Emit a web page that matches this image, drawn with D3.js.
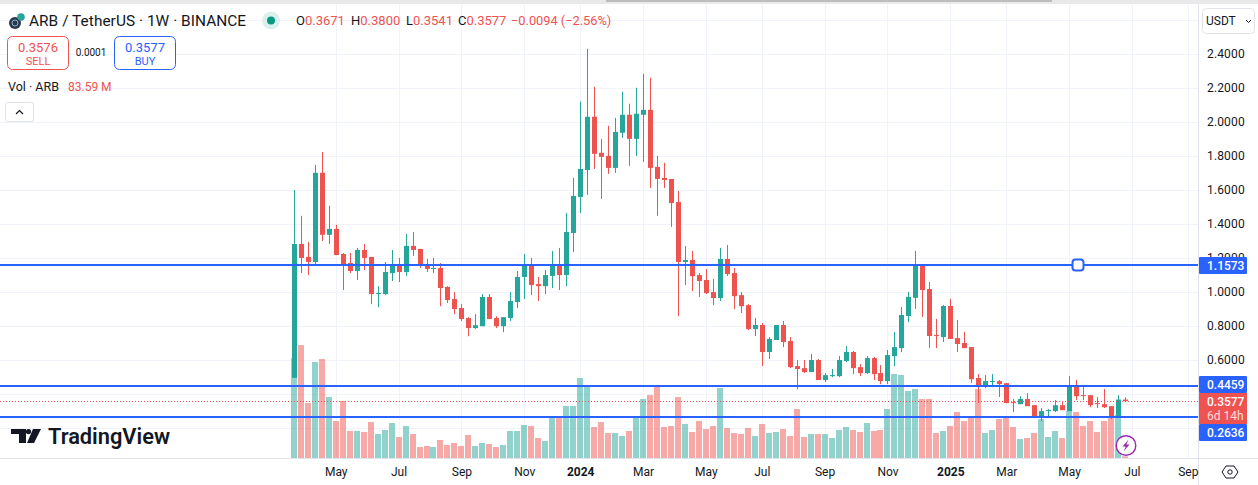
<!DOCTYPE html>
<html><head><meta charset="utf-8">
<script src="https://cdn.jsdelivr.net/npm/d3@7/dist/d3.min.js"></script>
<style>
html,body{margin:0;padding:0;background:#fff;overflow:hidden}
svg{display:block}
text{font-family:Roboto,"Noto Sans",sans-serif;fill:#131722}
</style></head><body><svg id="c" width="1258" height="485"></svg>
<script>
const opens=[.495,1.283,1.207,1.177,1.702,1.337,1.372,1.224,1.171,1.124,1.248,1.207,.988,.988,1.112,1.159,1.118,1.272,1.254,1.159,
1.136,1.142,1.030,.959,.906,.847,.788,.799,.971,.847,.799,.847,.941,1.089,1.159,1.047,1.035,1.095,1.159,1.100,
1.348,1.560,1.719,2.032,1.820,1.802,1.731,1.938,2.044,1.902,2.044,2.073,1.737,1.672,1.666,1.530,1.177,1.189,1.100,1.071,
1.000,.965,1.195,1.112,.982,.923,.782,.806,.647,.718,.806,.712,.564,.552,.529,.600,.482,.505,.505,.594,
.647,.558,.523,.611,.523,.476,.623,.670,.859,.966,1.159,1.018,.747,.735,.918,.729,.700,.676,.494,.446,
.470,.476,.464,.352,.340,.370,.334,.263,.299,.299,.334,.299,.452,.393,.393,.346,.340,.328,.263,.3671];
const closes=[1.283,1.201,1.177,1.702,1.337,1.372,1.218,1.165,1.124,1.248,1.201,.988,.994,1.118,1.159,1.118,1.272,1.248,1.159,1.136,
1.142,1.024,.953,.900,.841,.788,.805,.971,.841,.799,.852,.947,1.089,1.159,1.041,1.035,1.100,1.159,1.100,1.354,
1.566,1.725,2.032,1.814,1.796,1.731,1.943,2.044,1.902,2.050,2.073,1.731,1.666,1.660,1.524,1.177,1.189,1.094,1.065,.994,
.965,1.195,1.106,.976,.917,.782,.806,.647,.724,.806,.706,.558,.547,.529,.600,.482,.511,.511,.600,.647,
.552,.523,.611,.517,.476,.629,.676,.865,.972,1.159,1.012,.741,.741,.918,.724,.694,.670,.487,.446,.476,
.476,.458,.346,.346,.370,.328,.263,.299,.305,.334,.305,.452,.387,.387,.334,.340,.322,.263,.3671,.3577];
const highs=[1.601,1.449,1.295,1.749,1.825,1.508,1.396,1.230,1.230,1.260,1.283,1.207,1.035,1.177,1.248,1.201,1.342,1.354,1.254,1.195,
1.201,1.171,1.035,1.000,.929,.852,.870,.988,.988,.858,.852,1.000,1.124,1.224,1.201,1.089,1.130,1.242,1.260,1.466,
1.672,2.121,2.432,2.209,1.902,1.979,2.026,2.180,2.109,2.203,2.286,2.262,1.802,1.761,1.666,1.595,1.271,1.242,1.112,1.136,
1.077,1.260,1.277,1.142,1.000,.929,.848,.818,.735,.806,.830,.735,.600,.600,.635,.606,.523,.547,.623,.682,
.653,.576,.623,.617,.570,.659,.765,.912,1.001,1.242,1.159,1.059,.842,.924,.960,.836,.765,.676,.517,.511,
.517,.482,.464,.370,.387,.405,.334,.317,.311,.364,.352,.505,.482,.446,.393,.382,.429,.328,.393,.3800];
const lows=[.495,1.112,1.100,1.165,1.301,1.283,1.218,1.012,1.112,1.071,1.130,.929,.911,.982,1.065,1.059,1.095,1.213,1.142,1.118,
1.112,.917,.935,.870,.829,.740,.782,.799,.841,.788,.764,.829,.906,.959,.982,.947,.988,1.024,1.012,1.035,
1.236,1.465,1.572,1.725,1.548,1.696,1.702,1.908,1.743,1.802,1.766,1.613,1.449,1.613,1.384,.858,1.041,1.006,.971,.988,
.923,.947,1.094,.900,.876,.776,.741,.564,.606,.718,.676,.552,.428,.523,.529,.482,.470,.499,.499,.588,
.517,.505,.517,.482,.458,.458,.564,.647,.824,.901,.853,.670,.670,.706,.724,.647,.670,.464,.346,.434,
.440,.382,.346,.293,.340,.328,.258,.240,.263,.293,.305,.299,.364,.364,.322,.317,.317,.252,.263,.3541];
const volumes=[5000,5650,2750,4800,4950,3050,1850,2850,1350,1350,1300,1800,1200,1400,1750,1050,1600,1200,550,600,
550,900,650,750,600,1150,600,750,700,550,650,1350,1350,1650,1600,1000,850,2050,2100,2600,
2600,4000,3600,1550,1800,1250,1250,1100,1350,2050,2950,3150,3600,1550,1600,3050,1700,1300,1850,1450,
1600,3500,1500,1250,1200,1500,1100,1700,1250,1300,1450,1100,2450,1050,1200,1200,1200,1000,1400,1550,
1400,1300,1750,1350,1400,2450,4200,4150,3350,3450,2950,2950,1250,1350,1600,2300,1850,2100,3450,1250,
1400,1950,2000,1550,950,1000,1250,1950,1050,1350,1000,2350,2300,1600,1850,1300,1850,2000,2150,83.59];
const priceTicks=[2.4,2.2,2.0,1.8,1.6,1.4,1.2,1.0,0.8,0.6];
const gridPrices=[2.6,2.4,2.2,2.0,1.8,1.6,1.4,1.2,1.0,0.8,0.6,0.4,0.2];
const timeTickIdx=[6,15,24,33,41,50,59,67,76,85,94,102,111,120,128];
const timeTickLabels=["May","Jul","Sep","Nov","2024","Mar","May","Jul","Sep","Nov","2025","Mar","May","Jul","Sep"];
const boldLabels=["2024","2025"];
const levels=[1.1573,0.4459,0.2636];
const lastClose=0.3577;

const GREEN="#26a69a",RED="#ef5350",BLUE="#2962ff",GRID="#f0f3fa",LINE="#e0e3eb";
const svg=d3.select("#c");
const x=d3.scaleLinear().domain([0,128]).range([294.3,1188.3]);
const y=d3.scaleLinear().domain([2.4,0.6]).range([54.3,360]);
const v=d3.scaleLinear().domain([0,5000]).range([458,358]);
const px=i=>Math.floor(x(i));
const color=i=>closes[i]>=opens[i]?GREEN:RED;
const idx=d3.range(opens.length);

// top band
svg.append("rect").attr("width",1258).attr("height",4).attr("fill","#e9e9e9");
svg.append("rect").attr("x",606).attr("width",446).attr("height",2).attr("fill","#bdbdbd");

// grid
const g=svg.append("g");
g.selectAll(".h").data(gridPrices).join("line").attr("x1",0).attr("x2",1198)
 .attr("y1",d=>Math.round(y(d))+.5).attr("y2",d=>Math.round(y(d))+.5).attr("stroke",GRID);
g.selectAll(".v").data(timeTickIdx).join("line").attr("y1",4).attr("y2",458)
 .attr("x1",d=>Math.floor(x(d))+.5).attr("x2",d=>Math.floor(x(d))+.5).attr("stroke",GRID);

// volume
g.selectAll(".vol").data(idx).join("rect")
 .attr("x",i=>px(i)-3).attr("width",6)
 .attr("y",i=>v(volumes[i])).attr("height",i=>458-v(volumes[i]))
 .attr("fill",i=>color(i)).attr("fill-opacity",.5);

// candles
g.selectAll(".wick").data(idx).join("rect")
 .attr("x",i=>px(i)).attr("width",1)
 .attr("y",i=>y(highs[i])).attr("height",i=>y(lows[i])-y(highs[i]))
 .attr("fill",i=>color(i));
g.selectAll(".body").data(idx).join("rect")
 .attr("x",i=>px(i)-2).attr("width",5)
 .attr("y",i=>y(Math.max(opens[i],closes[i])))
 .attr("height",i=>Math.max(1,Math.abs(y(opens[i])-y(closes[i]))))
 .attr("fill",i=>color(i));

// last price line
svg.append("line").attr("x1",0).attr("x2",1198).attr("y1",Math.round(y(lastClose))+.5).attr("y2",Math.round(y(lastClose))+.5)
 .attr("stroke",RED).attr("stroke-dasharray","1 2");

// level lines
svg.selectAll(".lvl").data(levels).join("line").attr("x1",0).attr("x2",1198)
 .attr("y1",d=>Math.round(y(d))).attr("y2",d=>Math.round(y(d))).attr("stroke",BLUE).attr("stroke-width",2);
svg.append("rect").attr("x",1072.5).attr("y",Math.round(y(levels[0]))-5.5).attr("width",11).attr("height",11).attr("rx",3)
 .attr("fill","#fff").attr("stroke",BLUE).attr("stroke-width",2);

// axes frame
svg.append("line").attr("x1",1198.5).attr("x2",1198.5).attr("y1",4).attr("y2",485).attr("stroke",LINE);
svg.append("line").attr("x1",0).attr("x2",1258).attr("y1",458.5).attr("y2",458.5).attr("stroke",LINE);

// price labels
svg.selectAll(".pl").data(priceTicks).join("text").attr("x",1207).attr("y",d=>y(d)+3.7)
 .attr("font-size",12).attr("letter-spacing",".15").text(d=>d.toFixed(4));

// time labels
svg.selectAll(".tl").data(timeTickIdx).join("text").attr("x",d=>x(d)).attr("y",476)
 .attr("text-anchor","middle").attr("font-size",12)
 .attr("font-weight",(d,i)=>boldLabels.includes(timeTickLabels[i])?700:400)
 .text((d,i)=>timeTickLabels[i]);

// level price tags
const tagBox=[[257,17],[376,17],[424,17]];
levels.forEach((l,i)=>{
 svg.append("rect").attr("x",1199).attr("y",tagBox[i][0]).attr("width",48).attr("height",tagBox[i][1]).attr("fill",BLUE).attr("rx",1);
 svg.append("text").attr("x",1207).attr("y",tagBox[i][0]+13).attr("font-size",12).attr("font-weight",500)
  .style("fill","#fff").text(l.toFixed(4));
});
svg.append("rect").attr("x",1199).attr("y",393).attr("width",48).attr("height",31).attr("fill",RED);
svg.append("text").attr("x",1207).attr("y",406).attr("font-size",12).attr("font-weight",500).style("fill","#fff").text(lastClose.toFixed(4));
svg.append("text").attr("x",1207).attr("y",420).attr("font-size",12).style("fill","#fbdcdb").text("6d 14h");

// currency button
svg.append("rect").attr("x",1202.5).attr("y",8.5).attr("width",52).attr("height",25).attr("rx",4).attr("fill","#fff").attr("stroke",LINE);
svg.append("text").attr("x",1206).attr("y",25).attr("font-size",12).text("USDT");
svg.append("path").attr("d","M1246 20l2.5 2.5 2.5-2.5").attr("fill","none").attr("stroke","#131722");

// settings icon
svg.append("path").attr("d","M1222 472l4-6h8l4 6-4 6h-8z").attr("fill","none").attr("stroke","#131722");
svg.append("circle").attr("cx",1230).attr("cy",472).attr("r",2.2).attr("fill","none").attr("stroke","#131722");

// legend
svg.append("circle").attr("cx",15).attr("cy",23).attr("r",6).attr("fill","#2d3748");
svg.append("circle").attr("cx",15).attr("cy",23).attr("r",3).attr("fill","none").attr("stroke","#7fb7e6");
svg.append("circle").attr("cx",21).attr("cy",17).attr("r",3.8).attr("fill","#26a69a");
svg.append("text").attr("x",29).attr("y",26).attr("font-size",15.4).attr("letter-spacing",".05").text("ARB / TetherUS · 1W · BINANCE");
svg.append("circle").attr("cx",271).attr("cy",20.5).attr("r",9).attr("fill","#d9f0ed");
svg.append("circle").attr("cx",271).attr("cy",20.5).attr("r",4).attr("fill","#089981");
const ohlc=[["O",296,"0.3671"],["H",351,"0.3800"],["L",406,"0.3541"],["C",458,"0.3577"]];
ohlc.forEach(o=>{
 const t=svg.append("text").attr("x",o[1]).attr("y",25).attr("font-size",13);
 t.append("tspan").text(o[0]);
 t.append("tspan").style("fill",RED).text(o[2]);
});
svg.append("text").attr("x",511).attr("y",25).attr("font-size",12.8).style("fill",RED).text("−0.0094 (−2.56%)");

// sell / buy
svg.append("rect").attr("x",7.5).attr("y",36.5).attr("width",61).attr("height",33).attr("rx",5).attr("fill","#fff").attr("stroke",RED);
svg.append("text").attr("x",38).attr("y",52).attr("text-anchor","middle").attr("font-size",13).style("fill",RED).text("0.3576");
svg.append("text").attr("x",38).attr("y",65).attr("text-anchor","middle").attr("font-size",11).style("fill",RED).text("SELL");
svg.append("text").attr("x",91).attr("y",56).attr("text-anchor","middle").attr("font-size",10).text("0.0001");
svg.append("rect").attr("x",114.5).attr("y",36.5).attr("width",61).attr("height",33).attr("rx",5).attr("fill","#fff").attr("stroke",BLUE);
svg.append("text").attr("x",145).attr("y",52).attr("text-anchor","middle").attr("font-size",13).style("fill",BLUE).text("0.3577");
svg.append("text").attr("x",145).attr("y",65).attr("text-anchor","middle").attr("font-size",11).style("fill",BLUE).text("BUY");

// volume legend
svg.append("text").attr("x",8).attr("y",91).attr("font-size",12.5).text("Vol · ARB");
svg.append("text").attr("x",68).attr("y",91).attr("font-size",12).style("fill",RED).text("83.59 M");
svg.append("rect").attr("x",5.5).attr("y",102.5).attr("width",28).attr("height",19).attr("rx",2).attr("fill","#fff").attr("stroke",LINE);
svg.append("path").attr("d","M16 114l3.5-3.5 3.5 3.5").attr("fill","none").attr("stroke","#131722").attr("stroke-width",1.2);

// logo
svg.append("path").attr("fill","#131722")
 .attr("d","M11 429h15v14h-7v-9h-8zM34 443h-7l6-14h8zM28.5 429a2.6 2.6 0 1 1-.01 5.2a2.6 2.6 0 0 1 .01-5.2z");
svg.append("text").attr("x",48).attr("y",444).attr("font-size",21.8).attr("font-weight",600)
 .attr("font-family","Inter,Roboto,sans-serif").style("fill","#131722").text("TradingView");

// flash icon
svg.append("circle").attr("cx",1126).attr("cy",445.5).attr("r",9.8).attr("fill","#fff").attr("stroke","#9c27b0").attr("stroke-width",1.4);
svg.append("path").attr("d","M1128.5 439.5l-6 7h3.2l-2.2 5 6-7h-3.2z").attr("fill","#9c27b0");
</script></body></html>
